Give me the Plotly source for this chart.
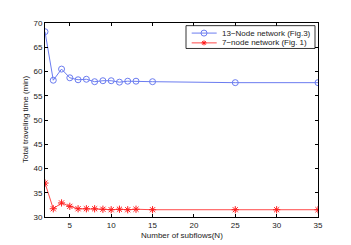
import plotly.graph_objects as go

x13 = [2, 3, 4, 5, 6, 7, 8, 9, 10, 11, 12, 13, 15, 25, 35]
y13 = [68.2, 58.2, 60.5, 58.7, 58.3, 58.4, 57.9, 58.1, 58.1, 57.8, 58.0, 58.0, 57.9, 57.7, 57.7]
x7 = [2, 3, 4, 5, 6, 7, 8, 9, 10, 11, 12, 13, 15, 25, 30, 35]
y7 = [37.0, 31.7, 32.9, 32.2, 31.7, 31.7, 31.7, 31.6, 31.5, 31.6, 31.5, 31.6, 31.5, 31.5, 31.5, 31.5]
xticks = [5, 10, 15, 20, 25, 30, 35]
yticks = [30, 35, 40, 45, 50, 55, 60, 65, 70]
names = ["13\u2212Node network (Fig.3)", "7\u2212node network (Fig. 1)"]

BLUE = "#6b7cf0"
RED = "#ff4a4a"
OFF = 8  # default page body margin
W, H = 351 - OFF, 245 - OFF
L, T = 45 - OFF, 19 - OFF
PW, PH = 273, 198
R, B = W - L - PW, H - T - PH

def px(x):
    # page pixel -> paper
    return (x - OFF - L) / PW

def py(y):
    return (T + PH - (y - OFF)) / PH

fig = go.Figure()
fig.add_trace(go.Scatter(
    x=x13, y=y13, mode="lines+markers", name=names[0], showlegend=False,
    line=dict(color=BLUE, width=1),
    marker=dict(symbol="circle-open", size=6, color=BLUE, line=dict(width=1)),
))
fig.add_trace(go.Scatter(
    x=x7, y=y7, mode="lines+markers", name=names[1], showlegend=False,
    line=dict(color=RED, width=1),
    marker=dict(symbol="asterisk-open", size=6, color="#ff1a1a", line=dict(width=1, color="#ff1a1a")),
))

axis_common = dict(
    showgrid=False, zeroline=False, ticks="inside", ticklen=3, tickwidth=0.5,
    tickcolor="black", showline=True, linecolor="black", linewidth=1, mirror="ticks",
    tickfont=dict(size=8, color="#222"),
)
fig.update_xaxes(range=[2, 35], tickvals=xticks, **axis_common)
fig.update_yaxes(range=[30, 70], tickvals=yticks, **axis_common)

shapes = []
annotations = []
shapes.append(dict(type="rect", xref="paper", yref="paper",
                   x0=px(186), x1=px(315), y0=py(45), y1=py(21.7),
                   line=dict(color="black", width=0.8), fillcolor="white", layer="above"))
rows = [29.3, 39.3]
for i, (yy, col) in enumerate(zip(rows, [BLUE, RED])):
    shapes.append(dict(type="line", xref="paper", yref="paper",
                       x0=px(191.7), x1=px(216.7), y0=py(yy), y1=py(yy),
                       line=dict(color=col, width=1), layer="above"))
    annotations.append(dict(xref="paper", yref="paper", x=px(219.5), y=py(yy),
                            xanchor="left", yanchor="middle", showarrow=False,
                            text=names[i], font=dict(size=8, color="#222")))
shapes.append(dict(type="circle", xref="paper", yref="paper",
                   xsizemode="pixel", ysizemode="pixel",
                   xanchor=px(204), yanchor=py(rows[0]),
                   x0=-3, x1=3, y0=-3, y1=3,
                   line=dict(color=BLUE, width=1), fillcolor="rgba(0,0,0,0)", layer="above"))
for dx, dy in [(2.5, 0), (0, 2.5), (1.8, 1.8), (1.8, -1.8)]:
    shapes.append(dict(type="line", xref="paper", yref="paper",
                       xsizemode="pixel", ysizemode="pixel",
                       xanchor=px(204), yanchor=py(rows[1]),
                       x0=-dx, x1=dx, y0=-dy, y1=dy,
                       line=dict(color="#ff1a1a", width=1), layer="above"))
annotations.append(dict(xref="paper", yref="paper", x=0.5, y=py(235.5),
                        xanchor="center", yanchor="middle", showarrow=False,
                        text="Number of subflows(N)", font=dict(size=8, color="#222")))
annotations.append(dict(xref="paper", yref="paper", x=px(25), y=0.5,
                        xanchor="center", yanchor="middle", showarrow=False, textangle=-90,
                        text="Total traveling time (min)", font=dict(size=8, color="#222")))

fig.update_layout(
    width=W, height=H,
    margin=dict(l=L, r=R, t=T, b=B),
    paper_bgcolor="white", plot_bgcolor="white",
    font=dict(family="Liberation Sans, Arial, sans-serif", size=8, color="#222"),
    shapes=shapes, annotations=annotations, showlegend=False,
)
fig.write_html("out.html")
